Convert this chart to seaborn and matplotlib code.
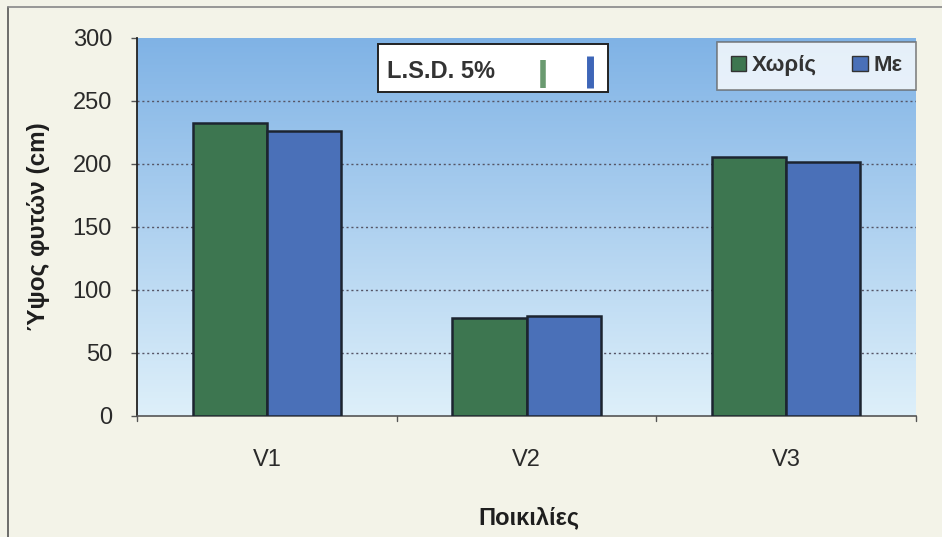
import numpy as np
import pandas as pd
import matplotlib
matplotlib.use("Agg")
import matplotlib.pyplot as plt
from matplotlib.patches import Rectangle
from matplotlib.lines import Line2D
import seaborn as sns

# Plant height per variety, without / with treatment
varieties = ["V1", "V2", "V3"]
groups = ["Χωρίς", "Με"]
height_without = [232, 78, 205]
height_with = [226, 79, 201]
lsd_values = [22, 25]  # L.S.D. 5% for each group (cm)

df = pd.DataFrame({
    "Ποικιλίες": varieties * 2,
    "group": [groups[0]] * 3 + [groups[1]] * 3,
    "height": height_without + height_with,
})

sns.set_theme(style="white")
plt.rcParams["font.family"] = ["Liberation Sans", "DejaVu Sans"]

fig_bg = "#f3f3e8"
green = "#3d7650"
blue = "#4a70b8"
edge = "#1c2430"
txt = "#2a2a2a"

fig = plt.figure(figsize=(9.42, 5.37), dpi=100, facecolor=fig_bg)
ax = fig.add_axes([137 / 942, 1 - 416 / 537, (916 - 137) / 942, (416 - 37.5) / 537])
ax.set_facecolor("none")

# vertical gradient background of the plot area
grad = np.linspace(0, 1, 256).reshape(-1, 1)
top_c = np.array([0.50, 0.70, 0.90])
bot_c = np.array([0.87, 0.94, 0.98])
img = top_c[None, None, :] * (1 - grad[..., None]) + bot_c[None, None, :] * grad[..., None]
ax.imshow(img, extent=[-0.5, 2.5, 0, 300], aspect="auto", origin="upper", zorder=0)

sns.barplot(data=df, x="Ποικιλίες", y="height", hue="group", hue_order=groups,
            palette=[green, blue], width=0.57, saturation=1,
            edgecolor=edge, linewidth=1.8, ax=ax, zorder=3, legend=False)

ax.set_xlim(-0.5, 2.5)
ax.set_ylim(0, 300)
ax.set_yticks(np.arange(0, 301, 50))
ax.set_yticklabels([str(v) for v in range(0, 301, 50)], fontsize=17, color=txt)
ax.set_xticks(range(3))
ax.set_xticklabels(varieties, fontsize=17, color=txt)
ax.tick_params(axis="x", length=0, pad=24)
ax.tick_params(axis="y", length=4, width=1, color="#555555", direction="out", left=True, pad=14)

for y in range(50, 300, 50):
    ax.axhline(y, color="#555566", linestyle=(0, (1.5, 2)), linewidth=1.0, zorder=1)

for side in ["top", "right"]:
    ax.spines[side].set_visible(False)
ax.spines["left"].set_color("#222222")
ax.spines["left"].set_linewidth(1.3)
ax.spines["bottom"].set_color("#555555")
ax.spines["bottom"].set_linewidth(1.2)

# category boundary ticks under the x axis
for xb in [-0.5, 0.5, 1.5, 2.5]:
    ax.plot([xb, xb], [0, -4], color="#555555", lw=1, clip_on=False, zorder=4)

ax.set_xlabel("")
fig.text(529 / 942, 1 - 518 / 537, "Ποικιλίες", fontsize=17, fontweight="bold",
         color="#1e1e1e", family=["DejaVu Sans Condensed", "Liberation Sans"],
         ha="center", va="center")
ax.set_ylabel("Ύψος φυτών (cm)", fontsize=17.5, fontweight="bold", color="#1e1e1e", labelpad=16)

# L.S.D. box
ax.add_patch(Rectangle(((378 - 137) / 779, 1 - (92 - 37.5) / 378.5),
                       (608 - 378) / 779, (92 - 44) / 378.5, transform=ax.transAxes,
                       facecolor="white", edgecolor="#222222", lw=1.4, zorder=5))
ax.text((387 - 137) / 779, 1 - (72 - 37.5) / 378.5, "L.S.D. 5%", transform=ax.transAxes,
        fontsize=17, fontweight="bold", color="#333333", va="center", ha="left", zorder=6)
lsd_base = (416 - 88) / (416 - 37.5) * 300
lsd_x = [(543 - 137) / 779 * 3 - 0.5, (590 - 137) / 779 * 3 - 0.5]
ax.vlines(lsd_x[0], lsd_base, lsd_base + lsd_values[0], color="#6a9a70", lw=4, zorder=6)
ax.vlines(lsd_x[1], lsd_base, lsd_base + lsd_values[1], color="#3e66b8", lw=5, zorder=6)

# legend
handles = [Rectangle((0, 0), 1, 1, facecolor=green, edgecolor="#333333", lw=1),
           Rectangle((0, 0), 1, 1, facecolor=blue, edgecolor="#333333", lw=1)]
leg = ax.legend(handles, groups, loc="upper right", ncol=2, frameon=True,
                bbox_to_anchor=(1.0, 1 - (42 - 37.5) / 378.5), borderaxespad=0,
                prop={"size": 16, "weight": "bold"}, handlelength=0.7, handleheight=0.7,
                handletextpad=0.25, columnspacing=1.6, borderpad=0.6, fancybox=False)
leg.get_frame().set_edgecolor("#666666")
leg.get_frame().set_linewidth(1.2)
leg.set_zorder(7)
for t in leg.get_texts():
    t.set_color("#333333")

# figure border on left and top
fig.add_artist(Line2D([8 / 942, 8 / 942], [0, 1 - 7 / 537], color="#555555", lw=1.2))
fig.add_artist(Line2D([8 / 942, 1], [1 - 7 / 537, 1 - 7 / 537], color="#888888", lw=1.2))

fig.savefig("out.png", dpi=100, facecolor=fig_bg)
